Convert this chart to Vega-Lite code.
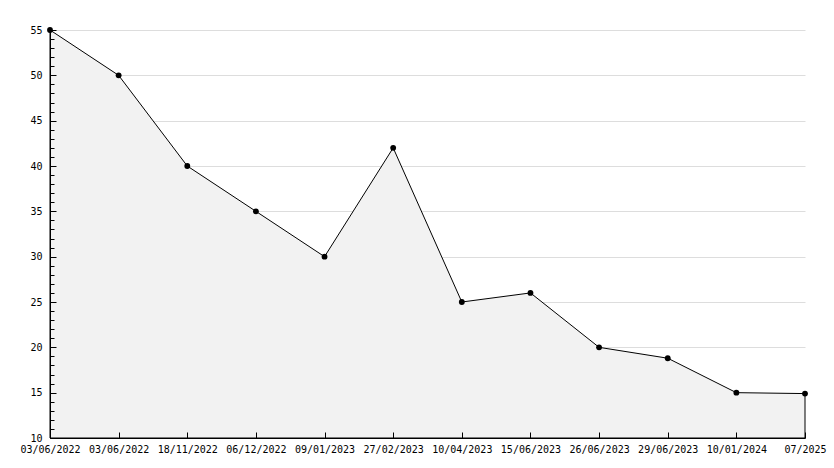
{
  "$schema": "https://vega.github.io/schema/vega-lite/v6.json",
  "width": 755,
  "height": 408,
  "autosize": {"type": "none"},
  "padding": {"left": 50, "top": 30, "right": 29, "bottom": 30},
  "background": "white",
  "config": {
    "view": {"stroke": null},
    "axis": {"labelFont": "DejaVu Sans Mono", "labelFontSize": 10, "labelColor": "black", "domainColor": "black", "tickColor": "black"}
  },
  "data": {
    "values": [
      {"i": 0, "date": "03/06/2022", "value": 55},
      {"i": 1, "date": "03/06/2022", "value": 50},
      {"i": 2, "date": "18/11/2022", "value": 40},
      {"i": 3, "date": "06/12/2022", "value": 35},
      {"i": 4, "date": "09/01/2023", "value": 30},
      {"i": 5, "date": "27/02/2023", "value": 42},
      {"i": 6, "date": "10/04/2023", "value": 25},
      {"i": 7, "date": "15/06/2023", "value": 26},
      {"i": 8, "date": "26/06/2023", "value": 20},
      {"i": 9, "date": "29/06/2023", "value": 18.8},
      {"i": 10, "date": "10/01/2024", "value": 15},
      {"i": 11, "date": "07/2025", "value": 14.9}
    ]
  },
  "encoding": {
    "x": {
      "field": "i",
      "type": "quantitative",
      "scale": {"domain": [0, 11], "nice": false, "zero": false},
      "axis": {
        "title": null,
        "grid": false,
        "zindex": 1,
        "values": [0, 1, 2, 3, 4, 5, 6, 7, 8, 9, 10, 11],
        "labelExpr": "['03/06/2022','03/06/2022','18/11/2022','06/12/2022','09/01/2023','27/02/2023','10/04/2023','15/06/2023','26/06/2023','29/06/2023','10/01/2024','07/2025'][datum.value]",
        "tickSize": -6,
        "labelPadding": 12,
        "labelFlush": false,
        "labelOverlap": false
      }
    }
  },
  "layer": [
    {
      "mark": {"type": "area", "fill": "#f2f2f2", "stroke": "black", "strokeWidth": 1, "interpolate": "linear"},
      "encoding": {
        "y": {
          "field": "value",
          "type": "quantitative",
          "scale": {"domain": [10, 55], "nice": false, "zero": false},
          "axis": {
            "title": null,
            "orient": "left",
            "zindex": 0,
            "values": [15, 20, 25, 30, 35, 40, 45, 50, 55],
            "grid": true,
            "gridColor": "#dddddd",
            "domain": false,
            "ticks": false,
            "labels": false
          }
        },
        "y2": {"datum": 10}
      }
    },
    {
      "mark": {"type": "point", "shape": "circle", "filled": true, "color": "black", "size": 34, "opacity": 1},
      "encoding": {
        "y": {
          "field": "value",
          "type": "quantitative",
          "scale": {"domain": [10, 55], "nice": false, "zero": false},
          "axis": {
            "title": null,
            "orient": "left",
            "zindex": 1,
            "grid": false,
            "values": [10, 11, 12, 13, 14, 15, 16, 17, 18, 19, 20, 21, 22, 23, 24, 25, 26, 27, 28, 29, 30, 31, 32, 33, 34, 35, 36, 37, 38, 39, 40, 41, 42, 43, 44, 45, 46, 47, 48, 49, 50, 51, 52, 53, 54, 55],
            "labelExpr": "datum.value % 5 === 0 ? datum.label : ''",
            "tickSize": {"condition": {"test": "datum.value % 5 === 0", "value": -6}, "value": -4},
            "labelPadding": 14,
            "labelOverlap": false,
            "labelFlush": false
          }
        }
      }
    }
  ],
  "resolve": {"axis": {"y": "independent"}}
}
